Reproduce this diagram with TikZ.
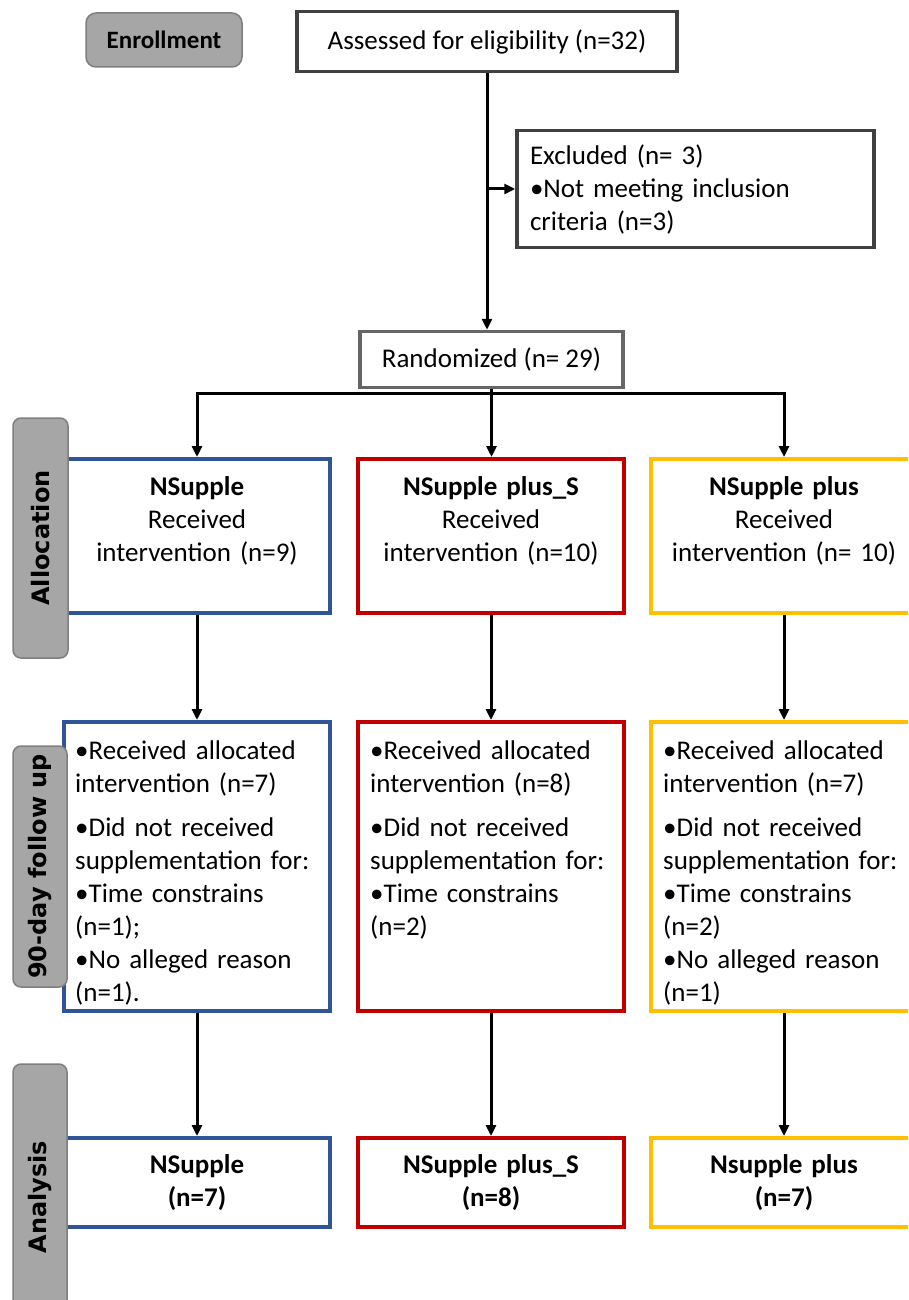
\documentclass[tikz,border=0pt]{standalone}
\usepackage{fontspec}
\setmainfont{Carlito}
\newfontfamily\sidefont{DejaVu Sans}
\usetikzlibrary{arrows.meta}
\definecolor{cblue}{HTML}{2F5597}
\definecolor{cred}{HTML}{C00000}
\definecolor{cyel}{HTML}{FFC000}
\definecolor{sidefill}{HTML}{A6A6A6}
\definecolor{sideline}{HTML}{7F7F7F}
\definecolor{boxline}{HTML}{404040}
\begin{document}
\begin{tikzpicture}[x=1pt,y=-1pt,
  colbox/.style={draw=#1, line width=4pt, inner sep=0pt, minimum width=266pt},
  greybox/.style={draw=boxline, line width=3.5pt, inner sep=0pt},
  sidelabel/.style={draw=sideline, fill=sidefill, line width=1.5pt, rounded corners=8pt,
    inner sep=0pt, font=\sidefont\bfseries\fontsize{24}{28}\selectfont, rotate=90},
  arr/.style={line width=3pt, -{Triangle[length=11pt,width=10pt]}},
  ctxt/.style={font=\fontsize{27}{33}\selectfont, text width=250pt, align=center},
  ltxt/.style={font=\fontsize{27}{33}\selectfont, text width=252pt, align=left, inner sep=0pt, anchor=base west}
]
\useasboundingbox (0,0) rectangle (908,1300);
\clip (0,0) rectangle (908,1300);
\fill[white] (0,0) rectangle (908,1300);

% enrollment stage
\node[draw=sideline, fill=sidefill, line width=1.5pt, rounded corners=10pt, inner sep=0pt,
  minimum width=156pt, minimum height=54pt, font=\bfseries\fontsize{25}{30}\selectfont]
  (enrol) at (164,40) {Enrollment};
\node[greybox, minimum width=380pt, minimum height=60pt, font=\fontsize{27}{33}\selectfont]
  (assess) at (487,41.5) {Assessed for eligibility (n=32)};
\node[greybox, minimum width=357pt, minimum height=117pt, inner xsep=13pt,
  font=\fontsize{27}{33}\selectfont, text width=331pt, align=left]
  (excl) at (695.5,189) {Excluded (n= 3)\\\textbullet Not meeting inclusion\\criteria (n=3)};
\node[draw=boxline!80, line width=3.5pt, inner sep=0pt, minimum width=263pt, minimum height=56pt,
  font=\fontsize{27}{33}\selectfont] (rand) at (491.5,359.5) {\raisebox{-4pt}{Randomized (n= 29)}};

% allocation
\node[colbox=cblue, minimum height=154pt, ctxt] (a1) at (197,536)
  {\textbf{NSupple}\\Received\\intervention (n=9)\\\mbox{}};
\node[colbox=cred, minimum height=154pt, ctxt] (a2) at (491,536)
  {\textbf{NSupple plus\_S}\\Received\\intervention (n=10)\\\mbox{}};
\node[colbox=cyel, minimum height=154pt, ctxt] (a3) at (784,536)
  {\textbf{NSupple plus}\\Received\\intervention (n= 10)\\\mbox{}};

% follow up
\node[colbox=cblue, minimum height=289pt] (f1) at (197,866.5) {};
\node[colbox=cred, minimum height=289pt] (f2) at (491,866.5) {};
\node[colbox=cyel, minimum height=289pt] (f3) at (784,866.5) {};
\node[ltxt] (t1) at (75,759) {\textbullet Received allocated\\intervention (n=7)\\[11pt]\textbullet Did not received\\supplementation for:\\\textbullet Time constrains\\(n=1);\\\textbullet No alleged reason\\(n=1).};
\node[ltxt] (t2) at (370,759) {\textbullet Received allocated\\intervention (n=8)\\[11pt]\textbullet Did not received\\supplementation for:\\\textbullet Time constrains\\(n=2)};
\node[ltxt] (t3) at (663,759) {\textbullet Received allocated\\intervention (n=7)\\[11pt]\textbullet Did not received\\supplementation for:\\\textbullet Time constrains\\(n=2)\\\textbullet No alleged reason\\(n=1)};

% analysis
\node[colbox=cblue, minimum height=89pt, ctxt] (n1) at (197,1182.5) {\textbf{NSupple}\\\textbf{(n=7)}};
\node[colbox=cred, minimum height=89pt, ctxt] (n2) at (491,1182.5) {\textbf{NSupple plus\_S}\\\textbf{(n=8)}};
\node[colbox=cyel, minimum height=89pt, ctxt] (n3) at (784,1182.5) {\textbf{Nsupple plus}\\\textbf{(n=7)}};

% side labels
\node[sidelabel, minimum width=240pt, minimum height=55pt] (sAlloc) at (40.5,538) {Allocation};
\node[sidelabel, minimum width=241pt, minimum height=54pt] (sFollow) at (40,866.5) {90-day follow up};
\node[sidelabel, minimum width=266pt, minimum height=54pt] (sAna) at (40,1197) {Analysis};

% connectors
\draw[arr] (assess.south) -- (assess.south |- rand.north);
\coordinate (jx) at (assess.south |- excl.west);
\draw[arr] (jx) -- (excl.west);
\draw[arr] (rand.south) -- (rand.south |- a2.north);
\draw[arr, line join=miter] (rand.south) -- ++(0,4) -| (a1.north);
\draw[arr, line join=miter] (rand.south) -- ++(0,4) -| (a3.north);
\draw[arr] (a1.south) -- (f1.north);
\draw[arr] (a2.south) -- (f2.north);
\draw[arr] (a3.south) -- (f3.north);
\draw[arr] (f1.south) -- (n1.north);
\draw[arr] (f2.south) -- (n2.north);
\draw[arr] (f3.south) -- (n3.north);
\end{tikzpicture}
\end{document}
